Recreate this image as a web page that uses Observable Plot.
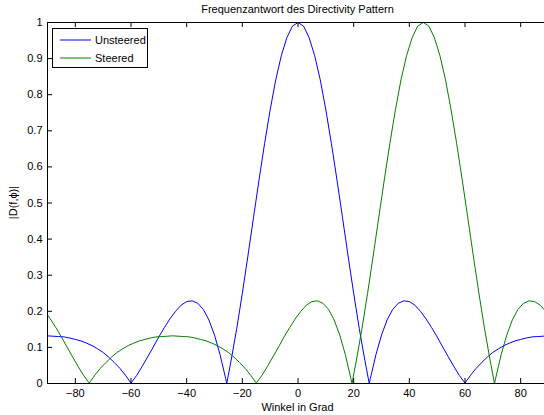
<!DOCTYPE html>
<html>
<head>
<meta charset="utf-8">
<script src="https://cdn.jsdelivr.net/npm/d3@7"></script>
<script src="https://cdn.jsdelivr.net/npm/@observablehq/plot@0.6"></script>
<style>
  html, body { margin: 0; padding: 0; background: #fff; overflow: hidden; }
  #chart { width: 544px; height: 415px; overflow: hidden; }
</style>
</head>
<body>
<div id="chart"></div>
<script>
const titleText = "Frequenzantwort des Directivity Pattern";
const xLabelText = "Winkel in Grad";
const yLabelText = "|D(f,\u03D5)|";
const seriesNames = ["Unsteered", "Steered"];
const seriesColors = ["#0000ff", "#008000"];

const xTicks = [-80, -60, -40, -20, 0, 20, 40, 60, 80];
const yTicks = [0, 0.1, 0.2, 0.3, 0.4, 0.5, 0.6, 0.7, 0.8, 0.9, 1];
const yTickLabels = ["0", "0.1", "0.2", "0.3", "0.4", "0.5", "0.6", "0.7", "0.8", "0.9", "1"];

const unsteeredAngle = [-90,-88,-86,-84,-82,-80,-78,-76,-74,-72,-70,-68,-66,-64,-62,-60,-58,-56,-54,-52,-50,-48,-46,-44,-42,-40,-38,-36,-34,-32,-30,-28,-26,-25.6,-24,-22,-20,-18,-16,-14,-12,-10,-8,-6,-4,-2,0,2,4,6,8,10,12,14,16,18,20,22,24,25.6,26,28,30,32,34,36,38,40,42,44,46,48,50,52,54,56,58,60,62,64,66,68,70,72,74,76,78,80,82,84,86,88,90];
const unsteeredValue = [0.132,0.131,0.130,0.129,0.126,0.122,0.118,0.112,0.105,0.096,0.086,0.073,0.058,0.042,0.023,0.001,0.022,0.047,0.074,0.101,0.129,0.155,0.179,0.200,0.217,0.227,0.229,0.222,0.205,0.176,0.134,0.080,0.014,0,0.065,0.153,0.250,0.353,0.459,0.564,0.665,0.758,0.841,0.908,0.958,0.990,1.000,0.990,0.958,0.908,0.841,0.758,0.665,0.564,0.459,0.353,0.250,0.153,0.065,0,0.014,0.080,0.134,0.176,0.205,0.222,0.229,0.227,0.217,0.200,0.179,0.155,0.129,0.101,0.074,0.047,0.022,0.001,0.023,0.042,0.058,0.073,0.086,0.096,0.105,0.112,0.118,0.122,0.126,0.129,0.130,0.131,0.132];

const steeredAngle = [-90,-89,-87,-85,-83,-81,-79,-77,-75,-73,-71,-69,-67,-65,-63,-61,-59,-57,-55,-53,-51,-49,-47,-45,-43,-41,-39,-37,-35,-33,-31,-29,-27,-25,-23,-21,-19,-17,-15,-13,-11,-9,-7,-5,-3,-1,1,3,5,7,9,11,13,15,17,19,19.4,21,23,25,27,29,31,33,35,37,39,41,43,45,47,49,51,53,55,57,59,61,63,65,67,69,70.6,71,73,75,77,79,81,83,85,87,89,90];
const steeredValue = [0.190,0.179,0.155,0.129,0.101,0.074,0.047,0.022,0.001,0.023,0.042,0.058,0.073,0.086,0.096,0.105,0.112,0.118,0.122,0.126,0.129,0.130,0.131,0.132,0.131,0.130,0.129,0.126,0.122,0.118,0.112,0.105,0.096,0.086,0.073,0.058,0.042,0.023,0.001,0.022,0.047,0.074,0.101,0.129,0.155,0.179,0.200,0.217,0.227,0.229,0.222,0.205,0.176,0.134,0.080,0.014,0,0.065,0.153,0.250,0.353,0.459,0.564,0.665,0.758,0.841,0.908,0.958,0.990,1.000,0.990,0.958,0.908,0.841,0.758,0.665,0.564,0.459,0.353,0.250,0.153,0.065,0,0.014,0.080,0.134,0.176,0.205,0.222,0.229,0.227,0.217,0.200,0.190];

const unsteered = unsteeredAngle.map((a, i) => ({angle: a, value: unsteeredValue[i]}));
const steered = steeredAngle.map((a, i) => ({angle: a, value: steeredValue[i]}));

const W = 544, H = 415;
const mL = 47, mR = -4, mT = 22, mB = 32;
const frameW = W - mL - mR, frameH = H - mT - mB;
const font = "'Liberation Sans', Arial, Helvetica, sans-serif";

const chart = Plot.plot({
  width: W,
  height: H,
  marginLeft: mL,
  marginRight: mR,
  marginTop: mT,
  marginBottom: mB,
  style: {fontFamily: font, fontSize: "11px", color: "#000", background: "#fff", overflow: "hidden"},
  x: {domain: [-90, 90]},
  y: {domain: [0, 1]},
  marks: [
    Plot.line(unsteered, {x: "angle", y: "value", stroke: seriesColors[0], strokeWidth: 1}),
    Plot.line(steered, {x: "angle", y: "value", stroke: seriesColors[1], strokeWidth: 1}),
    Plot.tickX(xTicks, {x: d => d, insetTop: frameH - 5, stroke: "#000", strokeWidth: 1}),
    Plot.tickX(xTicks, {x: d => d, insetBottom: frameH - 5, stroke: "#000", strokeWidth: 1}),
    Plot.tickY(yTicks, {y: d => d, insetRight: frameW - 5, stroke: "#000", strokeWidth: 1}),
    Plot.axisX({ticks: xTicks, tickSize: 0, tickPadding: 6, label: null, fontSize: 11, tickFormat: d => (d < 0 ? "\u2212" + Math.abs(d) : String(d))}),
    Plot.axisY({ticks: yTicks, tickSize: 0, tickPadding: 5, label: null, fontSize: 11, tickFormat: d => yTickLabels[yTicks.indexOf(d)]}),
    Plot.frame({stroke: "#000", strokeWidth: 1})
  ]
});

const svg = d3.select(chart);
const cx = mL + frameW / 2;
svg.append("text").attr("x", cx).attr("y", 12.5).attr("text-anchor", "middle")
  .attr("font-family", font).attr("font-size", 11).attr("fill", "#000").text(titleText);
svg.append("text").attr("x", cx).attr("y", 410.5).attr("text-anchor", "middle")
  .attr("font-family", font).attr("font-size", 11).attr("fill", "#000").text(xLabelText);
svg.append("text").attr("transform", `translate(17,${mT + frameH / 2}) rotate(-90)`).attr("text-anchor", "middle")
  .attr("font-family", font).attr("font-size", 11).attr("fill", "#000").text(yLabelText);

const lg = svg.append("g");
lg.append("rect").attr("x", 52.5).attr("y", 28.5).attr("width", 95).attr("height", 39)
  .attr("fill", "#fff").attr("stroke", "#000").attr("stroke-width", 1);
seriesNames.forEach((name, i) => {
  const yy = 40 + i * 18;
  lg.append("line").attr("x1", 60).attr("x2", 91).attr("y1", yy).attr("y2", yy)
    .attr("stroke", seriesColors[i]).attr("stroke-width", 1);
  lg.append("text").attr("x", 95).attr("y", yy + 4).attr("text-anchor", "start").attr("font-family", font)
    .attr("font-size", 11).attr("fill", "#000").text(name);
});

document.getElementById("chart").appendChild(chart);
</script>
</body>
</html>
